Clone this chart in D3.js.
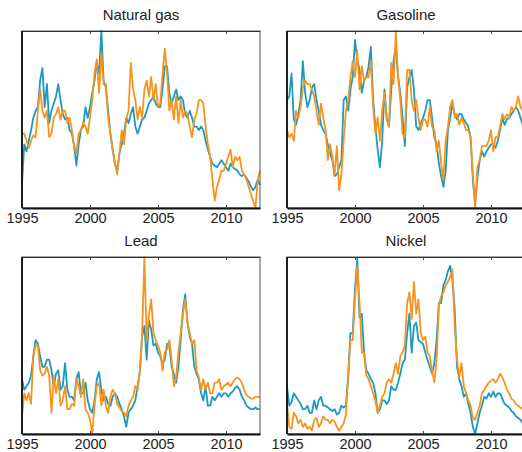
<!DOCTYPE html>
<html>
<head>
<meta charset="utf-8">
<script src="https://cdn.jsdelivr.net/npm/d3@7"></script>
<style>
  body { margin: 0; background: #fff; }
  svg { display: block; }
  text { font-family: "Liberation Sans", Arial, sans-serif; fill: #222; }
</style>
</head>
<body>
<svg id="chart" width="522" height="452"></svg>
<script>

  // monthly-ish samples, one every two months, Jan 1995 .. mid 2012
  var startYear = 1995;
  var endYear = 2012.5;
  var step = 1 / 6;
  var tickYears = [1995, 2000, 2005, 2010];

  var titles = ['Natural gas', 'Gasoline', 'Lead', 'Nickel'];

  var gasTeal = [14,36,32,38,44,51,55,57,72,79, 57,70,48,55,59,63,70,61,53,50,
    51,44,42,35,24,36,44,46,57,51, 57,65,72,82,76,100,72,68,55,42,
    33,25,21,31,36,42,51,48,53,57, 46,42,46,50,51,55,59,61,63,59,
    57,57,67,80,80,65,59,63,67,61, 63,61,53,51,55,51,46,46,44,46,
    44,38,33,29,25,24,23,25,27,25, 23,21,25,23,22,21,19,18,19,17,
    15,12,10,12,16,13];
  var gasOrange = [42,42,38,34,38,41,40,55,67,55, 51,55,40,42,51,53,57,50,55,55,
    48,51,44,35,31,42,44,48,46,42, 51,61,76,84,65,88,70,70,51,42,
    33,25,19,31,44,36,50,55,82,67, 61,50,57,51,67,72,63,74,61,70,
    57,59,76,90,76,55,61,50,63,48, 61,51,55,53,46,40,50,53,61,61,
    59,46,36,29,16,4,12,16,21,21, 25,29,33,23,29,27,29,21,19,16,
    12,8,4,0,16,21];

  var gasolineTeal = [61,63,76,50,47,53,61,83,65,57, 61,68,70,61,55,47,44,42,36,31,
    27,18,19,23,27,61,63,55,67,74, 95,84,78,65,72,74,80,91,61,46,
    33,23,38,67,50,46,67,83,91,74, 65,51,35,68,74,78,67,46,44,48,
    51,55,61,61,51,40,36,25,18,12, 21,44,51,59,53,50,53,53,50,48,
    46,40,16,2,17,27,32,29,32,34, 36,36,34,38,44,51,47,50,51,53,
    55,57,55,51,47,45];
  var gasolineOrange = [44,40,42,38,55,51,57,68,72,70, 70,67,63,55,47,59,51,44,27,36,
    29,19,35,10,19,38,55,61,74,83, 74,89,67,80,72,74,74,83,57,42,
    51,38,55,65,51,46,82,70,100,74, 61,42,40,78,78,61,55,61,51,44,
    50,50,46,57,46,44,32,38,25,16, 38,46,57,61,51,53,47,51,48,44,
    44,40,19,0,23,27,35,35,35,38, 44,32,40,40,46,53,50,53,51,57,
    55,57,63,57,55,54];

  var leadTeal = [31,25,27,29,33,44,53,51,44,38, 38,42,42,36,27,34,36,25,27,40,
    25,21,21,19,31,35,23,23,29,19, 14,12,19,31,35,25,19,21,17,16,
    21,23,21,17,14,10,4,12,14,16, 19,27,35,55,61,42,64,59,50,51,
    46,44,40,42,51,50,38,34,29,38, 53,70,79,63,55,51,38,34,31,23,
    19,27,16,16,21,19,21,23,21,23, 23,21,23,24,26,27,25,21,19,16,
    15,14,14,15,14,14];
  var leadOrange = [10,23,19,23,17,44,50,50,36,33, 34,38,33,12,33,23,31,16,19,27,
    14,14,17,16,31,27,21,31,14,12, 8,0,16,27,29,16,25,16,12,21,
    25,23,17,15,13,12,10,16,19,21, 27,25,36,57,100,53,67,76,57,53,
    50,46,36,46,48,53,42,27,32,46, 57,68,76,63,57,51,53,36,32,25,
    31,25,29,23,23,29,29,31,25,27, 28,29,27,29,31,32,31,29,25,22,
    21,20,20,21,21,21];

  var nickelTeal = [27,16,18,23,21,19,17,14,14,16, 12,12,19,14,19,21,16,16,15,14,
    13,14,11,12,16,15,16,33,57,57, 82,99,66,68,46,36,34,31,29,23,
    12,14,19,19,17,19,27,25,25,29, 34,40,42,57,68,46,61,63,53,52,
    51,46,42,38,34,40,53,74,74,84, 87,92,95,87,70,38,31,27,21,23,
    17,12,4,0,6,12,16,21,20,23, 21,24,21,23,23,20,17,16,15,13,
    12,10,9,8,6,5];
  var nickelOrange = [17,4,3,12,10,6,8,4,6,3, 4,2,8,9,4,6,10,8,8,6,
    8,7,4,2,4,6,11,33,53,53, 76,95,74,46,46,33,31,27,23,19,
    12,16,21,23,29,31,29,34,40,34, 44,46,50,74,80,65,86,68,76,57,
    53,55,46,44,36,29,42,72,78,80, 84,86,89,93,61,42,32,40,27,23,
    19,16,9,8,12,16,23,25,27,29, 30,31,29,31,34,32,29,25,23,20,
    19,17,16,15,14,13];

  var panelSeries = [
    [gasTeal, gasOrange],
    [gasolineTeal, gasolineOrange],
    [leadTeal, leadOrange],
    [nickelTeal, nickelOrange]
  ];
  var colors = ['#1b9ac0', '#f7941d'];

  var svg = d3.select('#chart');

  var panelW = 238, panelH = 177;
  var lefts = [22, 287];
  var tops = [31, 257];

  var x = d3.scaleLinear().domain([startYear, endYear]).range([0, panelW]);
  var y = d3.scaleLinear().domain([0, 100]).range([panelH, 0]);

  var line = d3.line()
    .x(function (d, i) { return x(startYear + i * step); })
    .y(function (d) { return y(d); });

  titles.forEach(function (title, p) {
    var col = p % 2, row = Math.floor(p / 2);
    var g = svg.append('g')
      .attr('transform', 'translate(' + lefts[col] + ',' + tops[row] + ')');

    svg.append('clipPath').attr('id', 'clip' + p)
      .append('rect')
        .attr('x', -1).attr('y', -1)
        .attr('width', panelW + 2).attr('height', panelH + 2);

    g.append('text')
      .attr('x', panelW / 2)
      .attr('y', -11)
      .attr('text-anchor', 'middle')
      .style('font-size', '15px')
      .text(title);

    var lines = g.append('g').attr('clip-path', 'url(#clip' + p + ')');
    panelSeries[p].forEach(function (vals, s) {
      lines.append('path')
        .datum(vals)
        .attr('d', line)
        .attr('fill', 'none')
        .attr('stroke', colors[s])
        .attr('stroke-width', 1.8)
        .attr('stroke-linejoin', 'round');
    });

    // frame: light top/right, dark left/bottom
    g.append('rect')
      .attr('width', panelW).attr('height', panelH)
      .attr('fill', 'none')
      .attr('stroke', '#555')
      .attr('stroke-width', 1);

    var bottom = d3.axisBottom(x)
      .tickValues(tickYears)
      .tickFormat(d3.format('d'))
      .tickSizeInner(-3)
      .tickSizeOuter(0)
      .tickPadding(5);
    var ax = g.append('g')
      .attr('transform', 'translate(0,' + panelH + ')')
      .call(bottom);
    ax.select('.domain').attr('stroke', '#111').attr('stroke-width', 1.8);
    ax.selectAll('text').style('font-size', '14.5px').attr('fill', '#222');
    ax.selectAll('line').attr('stroke', '#444');

    var top = d3.axisTop(x)
      .tickValues(tickYears)
      .tickFormat('')
      .tickSizeInner(-3)
      .tickSizeOuter(0);
    var at = g.append('g').call(top);
    at.select('.domain').attr('stroke', '#333').attr('stroke-width', 1.2);
    at.selectAll('line').attr('stroke', '#444');

    g.append('line')
      .attr('x1', 0).attr('x2', 0)
      .attr('y1', 0).attr('y2', panelH)
      .attr('stroke', '#111')
      .attr('stroke-width', 1.8);
  });

</script>
</body>
</html>
